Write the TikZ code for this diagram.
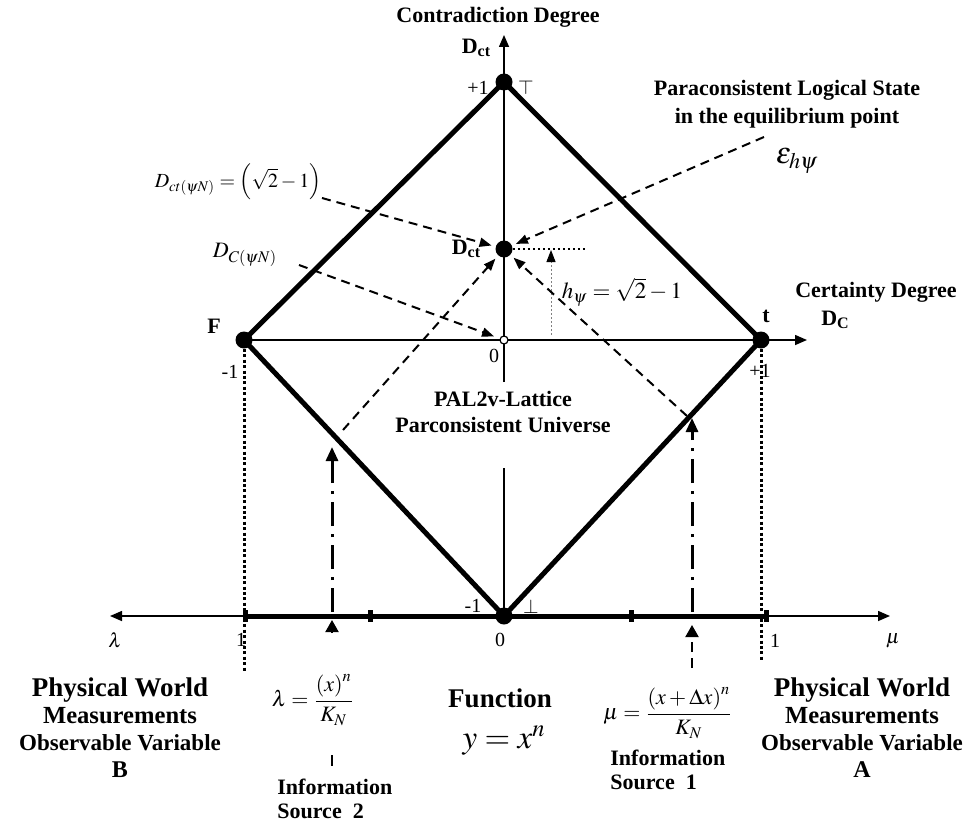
\documentclass[tikz,border=0pt]{standalone}
\usepackage{mathptmx}
\usepackage{fontspec}
\setmainfont{Liberation Serif}
\usetikzlibrary{arrows.meta}
\pgfdeclarelayer{bg}
\pgfsetlayers{bg,main}
\tikzset{
  dot/.style={circle,fill=black,inner sep=0pt,minimum size=8.5pt},
  orig/.style={circle,draw=black,fill=white,line width=0.6pt,inner sep=0pt,minimum size=4pt},
  tick/.style={fill=black,inner sep=0pt,minimum width=2.5pt,minimum height=6pt},
  diam/.style={line width=2.5pt,line join=round},
  axln/.style={line width=0.75pt},
  axis/.style={line width=0.75pt,-{Triangle[length=6pt,width=5pt]}},
  dsh/.style={line width=1pt,dash pattern=on 4.5pt off 3pt,-{Triangle[length=6pt,width=4.5pt]},shorten >=2pt},
  dd/.style={line width=1.5pt,dash pattern=on 12pt off 4pt on 1.5pt off 4pt,-{Triangle[length=7pt,width=6pt]}},
  dotv/.style={line width=1.5pt,dash pattern=on 1.5pt off 1.2pt},
  bl/.style={font=\bfseries\fontsize{11}{13}\selectfont,align=center,inner sep=0pt},
  num/.style={font=\fontsize{10}{12}\selectfont,inner sep=0pt},
}
\begin{document}
\begin{tikzpicture}[x=0.5pt,y=-0.5pt]
\useasboundingbox (0,0) rectangle (978,824);
% lattice points
\node[dot] (T) at (504,82) {};
\node[dot] (F) at (244,340) {};
\node[dot] (t) at (761,340) {};
\node[dot] (Bt) at (504,616) {};
\node[dot] (D) at (504,249) {};
\node[orig] (O) at (504,340) {};
% ticks on lower axis
\node[tick] (k1) at (245,616) {};
\node[tick] (k2) at (370,616) {};
\node[tick] (k3) at (631,616) {};
\node[tick] (k4) at (766,616) {};
% coordinates
\coordinate (cy) at (504,35);
\coordinate (cx) at (807,340);
\coordinate (gapU) at (504,382);
\coordinate (gapL) at (504,468);
\coordinate (lamE) at (110,616);
\coordinate (muE) at (890,616);
\coordinate (fd) at (244,672);
\coordinate (td) at (761,660);
\coordinate (hb) at (551,335);
\coordinate (ht) at (551,250);
\coordinate (hr) at (587,249);
\coordinate (epsS) at (764,137);
\coordinate (dctS) at (322,198);
\coordinate (dcS) at (299,265);
\coordinate (lS) at (343,430);
\coordinate (rS) at (687,416);
\coordinate (s2b) at (332,612);
\coordinate (s2t) at (332,447);
\coordinate (s1b) at (692,612);
\coordinate (s1t) at (692,418);
\coordinate (tr2b) at (332,633);
\coordinate (tr2t) at (332,620);
\coordinate (tr1b) at (692,668);
\coordinate (tr1t) at (692,625);
\coordinate (m2a) at (332,755);
\coordinate (m2b) at (332,766);

\begin{pgfonlayer}{bg}
  \draw[axis] (F.center) -- (cx);
  \draw[axln] (Bt.center) -- (gapL);
  \draw[axis] (gapU) -- (cy);
  \draw[axln,{Triangle[length=6pt,width=5pt]}-{Triangle[length=6pt,width=5pt]}] (lamE) -- (muE);
  \draw[line width=2.5pt] (k1.center) -- (k4.center);
  \draw[diam] (T.center) -- (t.center) -- (Bt.center) -- (F.center) -- cycle;
  \draw[dotv] (F) -- (fd);
  \draw[dotv] (t) -- (td);
  \draw[line width=1pt,dash pattern=on 1pt off 1.5pt] (D) -- (hr);
  \draw[gray,line width=0.5pt,dash pattern=on 1pt off 1pt,-{Triangle[length=6pt,width=4.5pt,black]}] (hb) -- (ht);
  \draw[dsh] (epsS) -- (D);
  \draw[dsh] (dctS) -- (D);
  \draw[dsh,shorten >=3pt] (dcS) -- (O);
  \draw[dsh] (lS) -- (D);
  \draw[dsh] (rS) -- (D);
  \draw[dd] (s2b) -- (s2t);
  \draw[dd] (s1b) -- (s1t);
  \draw[line width=1pt,-{Triangle[length=6pt,width=6.5pt]}] (tr2b) -- (tr2t);
  \draw[line width=1pt,dash pattern=on 5pt off 3pt,-{Triangle[length=6pt,width=6.5pt]}] (tr1b) -- (tr1t);
  \draw[line width=1pt] (m2a) -- (m2b);
\end{pgfonlayer}

% labels
\node[bl] (cdeg) at (498,17) {Contradiction Degree};
\node[bl] (dcty) at (476,48) {D\raisebox{-0.35ex}{\fontsize{8}{9}\selectfont ct}};
\node[num] (p1t) at (478,88) {+1};
\node[num] (topl) at (526,88) {$\top$};
\node[bl,font=\bfseries\fontsize{11}{14}\selectfont] (pls) at (787,104) {Paraconsistent Logical State\\in the equilibrium point};
\node[inner sep=0pt] (eps) at (797,161) {\fontsize{15}{17}\selectfont$\varepsilon_{h\psi}$};
\node[inner sep=0pt] (dctf) at (238,182) {\fontsize{10}{12}\selectfont$D_{ct(\psi N)}=\left(\sqrt{2}-1\right)$};
\node[inner sep=0pt] (dcf) at (245,255) {\fontsize{11}{13}\selectfont$D_{C(\psi N)}$};
\node[bl] (Fl) at (214,326) {F};
\node[num] (m1l) at (230,372) {-1};
\node[bl] (tl) at (766,316) {t};
\node[num] (p1r) at (760,371) {+1};
\node[bl] (cert) at (876,292) {Certainty Degree};
\node[bl] (dcx) at (835,320) {D\raisebox{-0.35ex}{\fontsize{8}{9}\selectfont C}};
\node[num] (zo) at (494,356) {0};
\node[bl] (dctl) at (466,249) {D\raisebox{-0.35ex}{\fontsize{8}{9}\selectfont ct}};
\node[inner sep=0pt] (hpsi) at (622,292) {\fontsize{11.5}{14}\selectfont$h_{\psi}=\sqrt{2}-1$};
\node[bl,font=\bfseries\fontsize{11}{13}\selectfont] (pal) at (503,412) {PAL2v-Lattice\\Parconsistent Universe};
% lower axis labels
\node[num] (laml) at (115,640) {$\lambda$};
\node[num] (onel) at (241,640) {1};
\node[num] (m1b) at (473,606) {-1};
\node[num] (zb) at (500,640) {0};
\node[num] (botl) at (531,607) {$\perp$};
\node[num] (oner) at (775,641) {1};
\node[num] (mul) at (893,641) {$\mu$};
% bottom texts
\node[bl,font=\bfseries\fontsize{12}{13.5}\selectfont] (pwb) at (120,728) {{\fontsize{13.5}{13.5}\selectfont Physical World}\\{\fontsize{12.3}{13.5}\selectfont Measurements}\\{\fontsize{11.5}{13.5}\selectfont Observable Variable}\\{\fontsize{12}{13.5}\selectfont B}};
\node[bl,font=\bfseries\fontsize{12}{13.5}\selectfont] (pwa) at (862,728) {{\fontsize{13.5}{13.5}\selectfont Physical World}\\{\fontsize{12.3}{13.5}\selectfont Measurements}\\{\fontsize{11.5}{13.5}\selectfont Observable Variable}\\{\fontsize{12}{13.5}\selectfont A}};
\node[inner sep=0pt] (lamf) at (313,700) {\fontsize{11}{13}\selectfont$\displaystyle\lambda=\frac{\left(x\right)^{n}}{K_{N}}$};
\node[inner sep=0pt] (muf) at (668,713) {\fontsize{11}{13}\selectfont$\displaystyle\mu=\frac{\left(x+\Delta x\right)^{n}}{K_{N}}$};
\node[bl,font=\bfseries\fontsize{13.5}{15}\selectfont] (func) at (500,698) {Function};
\node[inner sep=0pt] (yx) at (504,741) {\fontsize{16.5}{18}\selectfont$y=x^{n}$};
\node[bl,align=left,anchor=west,font=\bfseries\fontsize{11}{12}\selectfont] (is2) at (277,799) {Information\\Source\ \ 2};
\node[bl,align=left,anchor=west,font=\bfseries\fontsize{11}{12}\selectfont] (is1) at (610,770) {Information\\Source\ \ 1};
\end{tikzpicture}
\end{document}
